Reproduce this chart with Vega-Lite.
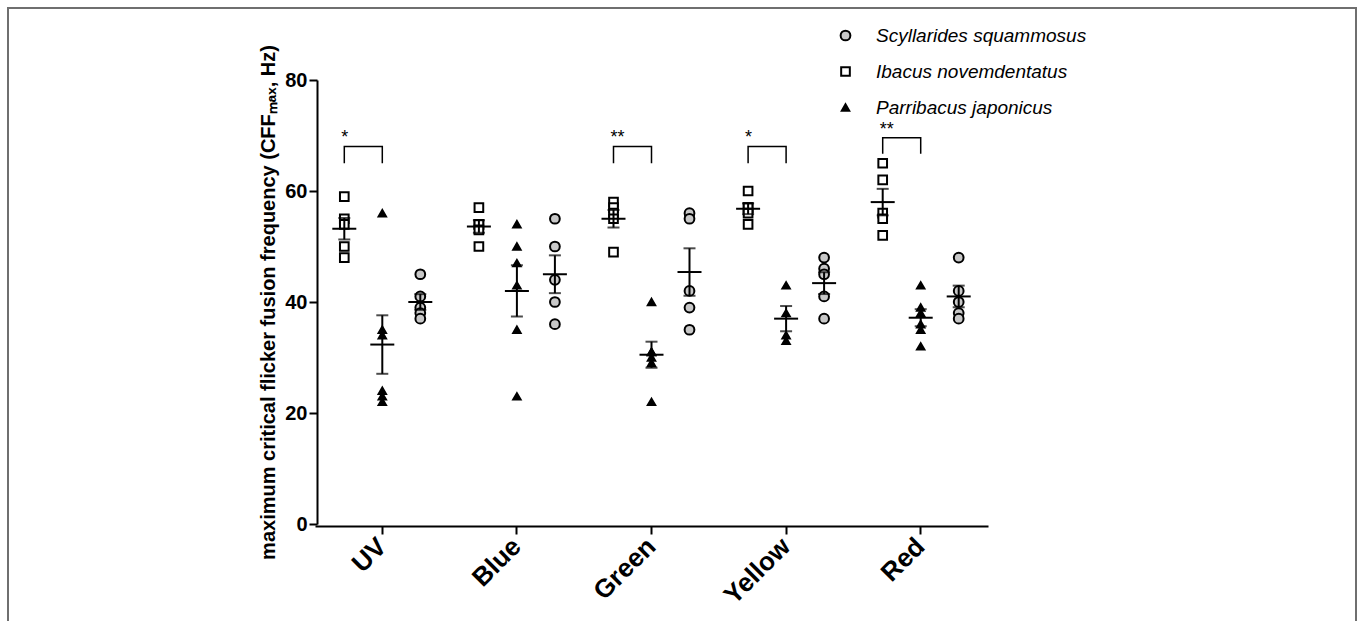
{
  "$schema": "https://vega.github.io/schema/vega-lite/v6.json",
  "width": 1348,
  "height": 615,
  "autosize": {"type": "none"},
  "padding": {"left": 8, "top": 8, "right": 2, "bottom": -2},
  "background": "white",
  "config": {
    "font": "Liberation Sans",
    "view": {"stroke": "#6f6f6f", "strokeWidth": 2},
    "axis": {"grid": false, "domainColor": "black", "tickColor": "black", "labelColor": "black", "titleColor": "black"},
    "legend": {
      "orient": "none",
      "legendX": 828,
      "legendY": 18,
      "title": null,
      "padding": 0,
      "labelFontSize": 19,
      "labelFontStyle": "italic",
      "labelColor": "black",
      "labelLimit": 400,
      "labelOffset": 21,
      "rowPadding": 16,
      "symbolStrokeColor": "black",
      "symbolStrokeWidth": 2
    }
  },
  "datasets": {
    "obs": [
      {"color": "UV", "species": "Ibacus novemdentatus", "value": 59},
      {"color": "UV", "species": "Ibacus novemdentatus", "value": 55},
      {"color": "UV", "species": "Ibacus novemdentatus", "value": 54},
      {"color": "UV", "species": "Ibacus novemdentatus", "value": 50},
      {"color": "UV", "species": "Ibacus novemdentatus", "value": 48},
      {"color": "UV", "species": "Parribacus japonicus", "value": 56},
      {"color": "UV", "species": "Parribacus japonicus", "value": 35},
      {"color": "UV", "species": "Parribacus japonicus", "value": 34},
      {"color": "UV", "species": "Parribacus japonicus", "value": 24},
      {"color": "UV", "species": "Parribacus japonicus", "value": 23},
      {"color": "UV", "species": "Parribacus japonicus", "value": 22},
      {"color": "UV", "species": "Scyllarides squammosus", "value": 45},
      {"color": "UV", "species": "Scyllarides squammosus", "value": 41},
      {"color": "UV", "species": "Scyllarides squammosus", "value": 39},
      {"color": "UV", "species": "Scyllarides squammosus", "value": 38},
      {"color": "UV", "species": "Scyllarides squammosus", "value": 37},
      {"color": "Blue", "species": "Ibacus novemdentatus", "value": 57},
      {"color": "Blue", "species": "Ibacus novemdentatus", "value": 54},
      {"color": "Blue", "species": "Ibacus novemdentatus", "value": 54},
      {"color": "Blue", "species": "Ibacus novemdentatus", "value": 53},
      {"color": "Blue", "species": "Ibacus novemdentatus", "value": 50},
      {"color": "Blue", "species": "Parribacus japonicus", "value": 54},
      {"color": "Blue", "species": "Parribacus japonicus", "value": 50},
      {"color": "Blue", "species": "Parribacus japonicus", "value": 47},
      {"color": "Blue", "species": "Parribacus japonicus", "value": 43},
      {"color": "Blue", "species": "Parribacus japonicus", "value": 35},
      {"color": "Blue", "species": "Parribacus japonicus", "value": 23},
      {"color": "Blue", "species": "Scyllarides squammosus", "value": 55},
      {"color": "Blue", "species": "Scyllarides squammosus", "value": 50},
      {"color": "Blue", "species": "Scyllarides squammosus", "value": 44},
      {"color": "Blue", "species": "Scyllarides squammosus", "value": 40},
      {"color": "Blue", "species": "Scyllarides squammosus", "value": 36},
      {"color": "Green", "species": "Ibacus novemdentatus", "value": 58},
      {"color": "Green", "species": "Ibacus novemdentatus", "value": 57},
      {"color": "Green", "species": "Ibacus novemdentatus", "value": 56},
      {"color": "Green", "species": "Ibacus novemdentatus", "value": 55},
      {"color": "Green", "species": "Ibacus novemdentatus", "value": 49},
      {"color": "Green", "species": "Parribacus japonicus", "value": 40},
      {"color": "Green", "species": "Parribacus japonicus", "value": 31},
      {"color": "Green", "species": "Parribacus japonicus", "value": 31},
      {"color": "Green", "species": "Parribacus japonicus", "value": 30},
      {"color": "Green", "species": "Parribacus japonicus", "value": 29},
      {"color": "Green", "species": "Parribacus japonicus", "value": 22},
      {"color": "Green", "species": "Scyllarides squammosus", "value": 56},
      {"color": "Green", "species": "Scyllarides squammosus", "value": 55},
      {"color": "Green", "species": "Scyllarides squammosus", "value": 42},
      {"color": "Green", "species": "Scyllarides squammosus", "value": 39},
      {"color": "Green", "species": "Scyllarides squammosus", "value": 35},
      {"color": "Yellow", "species": "Ibacus novemdentatus", "value": 60},
      {"color": "Yellow", "species": "Ibacus novemdentatus", "value": 57},
      {"color": "Yellow", "species": "Ibacus novemdentatus", "value": 57},
      {"color": "Yellow", "species": "Ibacus novemdentatus", "value": 56},
      {"color": "Yellow", "species": "Ibacus novemdentatus", "value": 54},
      {"color": "Yellow", "species": "Parribacus japonicus", "value": 43},
      {"color": "Yellow", "species": "Parribacus japonicus", "value": 38},
      {"color": "Yellow", "species": "Parribacus japonicus", "value": 34},
      {"color": "Yellow", "species": "Parribacus japonicus", "value": 33},
      {"color": "Yellow", "species": "Scyllarides squammosus", "value": 48},
      {"color": "Yellow", "species": "Scyllarides squammosus", "value": 46},
      {"color": "Yellow", "species": "Scyllarides squammosus", "value": 45},
      {"color": "Yellow", "species": "Scyllarides squammosus", "value": 41},
      {"color": "Yellow", "species": "Scyllarides squammosus", "value": 37},
      {"color": "Red", "species": "Ibacus novemdentatus", "value": 65},
      {"color": "Red", "species": "Ibacus novemdentatus", "value": 62},
      {"color": "Red", "species": "Ibacus novemdentatus", "value": 56},
      {"color": "Red", "species": "Ibacus novemdentatus", "value": 55},
      {"color": "Red", "species": "Ibacus novemdentatus", "value": 52},
      {"color": "Red", "species": "Parribacus japonicus", "value": 43},
      {"color": "Red", "species": "Parribacus japonicus", "value": 39},
      {"color": "Red", "species": "Parribacus japonicus", "value": 38},
      {"color": "Red", "species": "Parribacus japonicus", "value": 36},
      {"color": "Red", "species": "Parribacus japonicus", "value": 35},
      {"color": "Red", "species": "Parribacus japonicus", "value": 32},
      {"color": "Red", "species": "Scyllarides squammosus", "value": 48},
      {"color": "Red", "species": "Scyllarides squammosus", "value": 42},
      {"color": "Red", "species": "Scyllarides squammosus", "value": 40},
      {"color": "Red", "species": "Scyllarides squammosus", "value": 38},
      {"color": "Red", "species": "Scyllarides squammosus", "value": 37}
    ],
    "brackets": [
      {"color": "UV", "species": "Ibacus novemdentatus", "value": 65, "k": 1},
      {"color": "UV", "species": "Ibacus novemdentatus", "value": 68, "k": 2},
      {"color": "UV", "species": "Parribacus japonicus", "value": 68, "k": 3},
      {"color": "UV", "species": "Parribacus japonicus", "value": 65, "k": 4},
      {"color": "Green", "species": "Ibacus novemdentatus", "value": 65, "k": 1},
      {"color": "Green", "species": "Ibacus novemdentatus", "value": 68, "k": 2},
      {"color": "Green", "species": "Parribacus japonicus", "value": 68, "k": 3},
      {"color": "Green", "species": "Parribacus japonicus", "value": 65, "k": 4},
      {"color": "Yellow", "species": "Ibacus novemdentatus", "value": 65, "k": 1},
      {"color": "Yellow", "species": "Ibacus novemdentatus", "value": 68, "k": 2},
      {"color": "Yellow", "species": "Parribacus japonicus", "value": 68, "k": 3},
      {"color": "Yellow", "species": "Parribacus japonicus", "value": 65, "k": 4},
      {"color": "Red", "species": "Ibacus novemdentatus", "value": 66.7, "k": 1},
      {"color": "Red", "species": "Ibacus novemdentatus", "value": 69.6, "k": 2},
      {"color": "Red", "species": "Parribacus japonicus", "value": 69.6, "k": 3},
      {"color": "Red", "species": "Parribacus japonicus", "value": 66.7, "k": 4}
    ],
    "stars": [
      {"color": "UV", "species": "Ibacus novemdentatus", "value": 68.6, "label": "*"},
      {"color": "Green", "species": "Ibacus novemdentatus", "value": 68.6, "label": "**"},
      {"color": "Yellow", "species": "Ibacus novemdentatus", "value": 68.6, "label": "*"},
      {"color": "Red", "species": "Ibacus novemdentatus", "value": 70.1, "label": "**"}
    ]
  },
  "layer": [
    {
      "data": {"name": "obs"},
      "mark": {"type": "point", "filled": true, "strokeWidth": 2, "opacity": 1},
      "encoding": {
        "x": {
          "field": "color", "type": "nominal", "title": null,
          "scale": {"domain": ["UV", "Blue", "Green", "Yellow", "Red"], "range": [307, 980], "paddingInner": 0, "paddingOuter": 0},
          "axis": {"title": null, "offset": -97, "labelAngle": -45, "labelAlign": "right", "labelBaseline": "middle", "labelFontSize": 26, "labelFontWeight": "bold", "labelPadding": 8, "tickSize": 8, "tickWidth": 2, "domainWidth": 2}
        },
        "xOffset": {
          "field": "species", "type": "nominal",
          "scale": {"domain": ["Ibacus novemdentatus", "Parribacus japonicus", "Scyllarides squammosus"], "paddingInner": 0, "paddingOuter": 0.271}
        },
        "y": {
          "field": "value", "type": "quantitative", "title": "maximum critical flicker fusion frequency (CFFₘₐₓ, Hz)",
          "scale": {"domain": [0, 80], "range": [516, 72], "nice": false, "zero": true},
          "axis": {"offset": -309, "values": [0, 20, 40, 60, 80], "labelFontSize": 20, "labelFontWeight": "bold", "labelPadding": 2, "tickSize": 8, "tickWidth": 2, "domainWidth": 2, "titleFontSize": 20, "titleFontWeight": "bold", "titlePadding": 6}
        },
        "shape": {
          "field": "species", "type": "nominal",
          "scale": {"domain": ["Scyllarides squammosus", "Ibacus novemdentatus", "Parribacus japonicus"], "range": ["circle", "square", "triangle-up"]}
        },
        "fill": {
          "field": "species", "type": "nominal",
          "scale": {"domain": ["Scyllarides squammosus", "Ibacus novemdentatus", "Parribacus japonicus"], "range": ["#c8c8c8", "#ffffff", "#000000"]}
        },
        "stroke": {
          "field": "species", "type": "nominal",
          "scale": {"domain": ["Scyllarides squammosus", "Ibacus novemdentatus", "Parribacus japonicus"], "range": ["#000000", "#000000", "#000000"]}
        },
        "size": {
          "field": "species", "type": "nominal",
          "scale": {"domain": ["Scyllarides squammosus", "Ibacus novemdentatus", "Parribacus japonicus"], "range": [95, 55, 90]}
        }
      }
    },
    {
      "data": {"name": "obs"},
      "mark": {"type": "errorbar", "extent": "stderr", "color": "black", "thickness": 2, "ticks": {"size": 12}},
      "encoding": {
        "x": {"field": "color", "type": "nominal", "title": null},
        "xOffset": {"field": "species", "type": "nominal"},
        "y": {"field": "value", "type": "quantitative", "title": "maximum critical flicker fusion frequency (CFFₘₐₓ, Hz)"}
      }
    },
    {
      "data": {"name": "obs"},
      "mark": {"type": "tick", "color": "black", "size": 24, "thickness": 2, "opacity": 1},
      "encoding": {
        "x": {"field": "color", "type": "nominal", "title": null},
        "xOffset": {"field": "species", "type": "nominal"},
        "y": {"field": "value", "type": "quantitative", "aggregate": "mean", "title": "maximum critical flicker fusion frequency (CFFₘₐₓ, Hz)"}
      }
    },
    {
      "data": {"name": "brackets"},
      "mark": {"type": "line", "color": "black", "strokeWidth": 1.5},
      "encoding": {
        "x": {"field": "color", "type": "nominal", "title": null},
        "xOffset": {"field": "species", "type": "nominal"},
        "y": {"field": "value", "type": "quantitative", "title": "maximum critical flicker fusion frequency (CFFₘₐₓ, Hz)"},
        "detail": {"field": "color", "type": "nominal"},
        "order": {"field": "k", "type": "quantitative"}
      }
    },
    {
      "data": {"name": "stars"},
      "mark": {"type": "text", "align": "left", "baseline": "alphabetic", "dx": -3, "fontSize": 18, "color": "black"},
      "encoding": {
        "x": {"field": "color", "type": "nominal", "title": null},
        "xOffset": {"field": "species", "type": "nominal"},
        "y": {"field": "value", "type": "quantitative", "title": "maximum critical flicker fusion frequency (CFFₘₐₓ, Hz)"},
        "text": {"field": "label", "type": "nominal"}
      }
    }
  ]
}
